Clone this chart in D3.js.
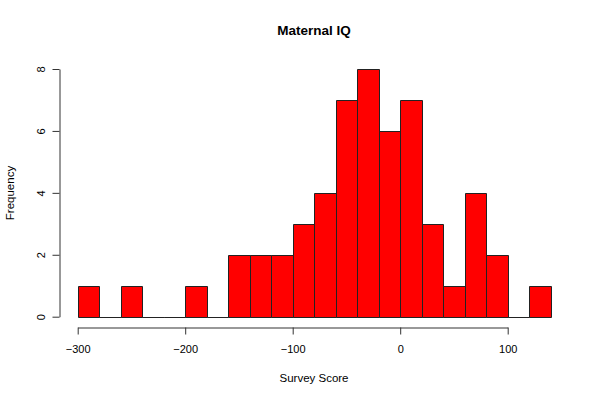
<!DOCTYPE html>
<html><head><meta charset="utf-8">
<script src="https://cdn.jsdelivr.net/npm/d3@7"></script>
<style>body{margin:0;background:#fff;} text{font-family:"Liberation Sans",Arial,Helvetica,sans-serif;}</style>
</head><body>
<svg id="c" width="600" height="400"></svg>
<script>
const binStarts = [-300,-280,-260,-240,-220,-200,-180,-160,-140,-120,-100,-80,-60,-40,-20,0,20,40,60,80,100,120];
const binWidth = 20;
const counts = [1,0,1,0,0,1,0,2,2,2,3,4,7,8,6,7,3,1,4,2,0,1];
const xTicks = [-300,-200,-100,0,100];
const yTicks = [0,2,4,6,8];
const title = "Maternal IQ";
const xLabel = "Survey Score";
const yLabel = "Frequency";

const svg = d3.select("#c");
const x = d3.scaleLinear().domain([-300,100]).range([77.7,507.7]);
const y = d3.scaleLinear().domain([0,8]).range([316.7,69]);
const xAxisY = 326.6, yAxisX = 59;

// bars
svg.append("g").selectAll("path").data(binStarts).join("path")
  .attr("d",(d,i)=>{
    const x0=Math.round(x(d))+0.5, x1=Math.round(x(d+binWidth))+0.5;
    const y0=Math.round(y(0))+0.5, y1=Math.round(y(counts[i]))+0.5;
    return `M${x0},${y0}V${y1}H${x1}V${y0}Z`;
  })
  .attr("fill","#ff0000").attr("stroke","#222").attr("stroke-width",1);

// x axis
const xa = svg.append("g").attr("transform",`translate(0,${Math.round(xAxisY)+0.5})`)
  .call(d3.axisBottom(x).tickValues(xTicks).tickSize(7).tickSizeOuter(0).tickFormat(d=>d<0?"\u2212"+(-d):d));
xa.select(".domain").attr("stroke","#333");
xa.selectAll(".tick line").attr("stroke","#333");
xa.selectAll(".tick text").attr("font-size",11).attr("fill","#000").attr("dy","1.45em").attr("font-family","Liberation Sans, Arial, sans-serif");

// y axis
const ya = svg.append("g").attr("transform",`translate(${yAxisX+0.5},0)`)
  .call(d3.axisLeft(y).tickValues(yTicks).tickSize(7).tickSizeOuter(0));
ya.select(".domain").attr("stroke","#333");
ya.selectAll(".tick line").attr("stroke","#333");
ya.selectAll(".tick text").attr("font-size",11).attr("fill","#000")
  .attr("font-family","Liberation Sans, Arial, sans-serif")
  .attr("x",null).attr("dy",null).attr("text-anchor","middle")
  .attr("transform","translate(-15,0) rotate(-90)");

// labels
svg.append("text").attr("x",314).attr("y",35).attr("text-anchor","middle")
  .attr("font-size",13.5).attr("font-weight","bold").text(title);
svg.append("text").attr("x",314).attr("y",382).attr("text-anchor","middle")
  .attr("font-size",11.5).text(xLabel);
svg.append("text").attr("transform","translate(14,193) rotate(-90)").attr("text-anchor","middle")
  .attr("font-size",11.5).text(yLabel);
</script>
</body></html>
